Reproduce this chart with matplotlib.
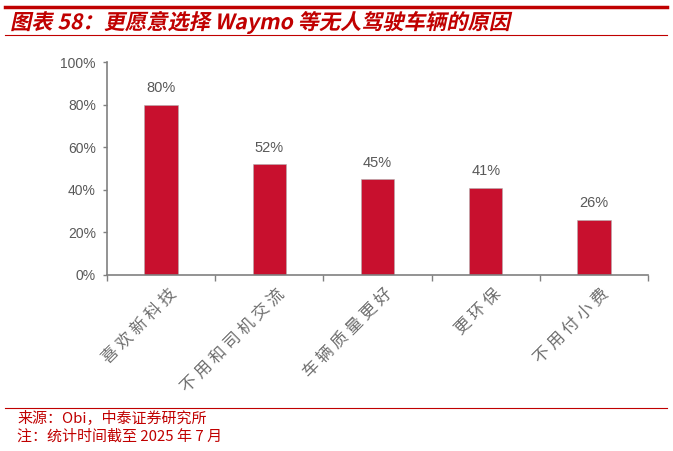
import matplotlib
matplotlib.use('Agg')
import matplotlib.pyplot as plt
from matplotlib.lines import Line2D
from matplotlib.patheffects import AbstractPathEffect
from matplotlib.transforms import Affine2D

plt.rcParams['font.family'] = ['Noto Sans CJK SC', 'DejaVu Sans']

categories = ['喜欢新科技', '不用和司机交流', '车辆质量更好', '更环保', '不用付小费']
values = [80, 52, 45, 41, 26]
yticks = [0, 20, 40, 60, 80, 100]
ytick_labels = ['0%', '20%', '40%', '60%', '80%', '100%']

title = '图表 58：更愿意选择 Waymo 等无人驾驶车辆的原因'
source = '来源：Obi，中泰证券研究所'
note = '注：统计时间截至 2025 年 7 月'

red = '#C00000'
bar_red = '#C8102E'
gray = '#595959'
axis_gray = '#808080'


class Slant(AbstractPathEffect):
    # fake italic: skew glyph outlines before they are placed
    def draw_path(self, renderer, gc, tpath, affine, rgbFace=None):
        renderer.draw_path(gc, tpath, Affine2D().skew_deg(12, 0) + affine, rgbFace)


fig = plt.figure(figsize=(6.73, 4.51), dpi=100)
ax = fig.add_axes([107/673, 1-275/451, (648-107)/673, (275-62)/451])

x = list(range(len(categories)))
ax.bar(x, values, width=0.31, color=bar_red, edgecolor='#B0B0B0', linewidth=0.4)
for xi, v in zip(x, values):
    ax.text(xi, v + 4.5, f'{v}%', ha='center', va='bottom', fontsize=10.5,
            color=gray, family='Liberation Sans')

ax.set_xlim(-0.5, len(categories) - 0.5)
ax.set_ylim(0, 100)
ax.set_yticks(yticks)
ax.set_yticklabels(ytick_labels, fontsize=10, color=gray, family='Liberation Sans')
ax.set_xticks([i + 0.5 for i in range(-1, len(categories))])
ax.set_xticklabels([])
ax.tick_params(axis='x', length=4, color=axis_gray, width=1, direction='out')
ax.tick_params(axis='y', length=3, color=axis_gray, width=1, direction='out', pad=5)
for xi, c in zip(x, categories):
    ax.text(xi + 0.06, -5, ' '.join(c), rotation=45, rotation_mode='anchor',
            ha='right', va='top', fontsize=12, color='#6E6E6E')

for s in ['top', 'right']:
    ax.spines[s].set_visible(False)
for s in ['left', 'bottom']:
    ax.spines[s].set_color(axis_gray)
    ax.spines[s].set_linewidth(1.2)

# header and footer rules
fig.add_artist(Line2D([5/673, 667/673], [1-7/451, 1-7/451], color=red, lw=2.5))
fig.add_artist(Line2D([5/673, 667/673], [1-35/451, 1-35/451], color=red, lw=0.8))
fig.add_artist(Line2D([5/673, 667/673], [1-408/451, 1-408/451], color=red, lw=0.8))

fig.text(10/673, 1-22/451, title, color=red, fontsize=15.3, fontweight='bold',
         ha='left', va='center', path_effects=[Slant()])
fig.text(17/673, 1-418/451, source, color=red, fontsize=10.8, ha='left', va='center')
fig.text(17/673, 1-437/451, note, color=red, fontsize=10.8, ha='left', va='center')

fig.savefig('out.png', dpi=100)
